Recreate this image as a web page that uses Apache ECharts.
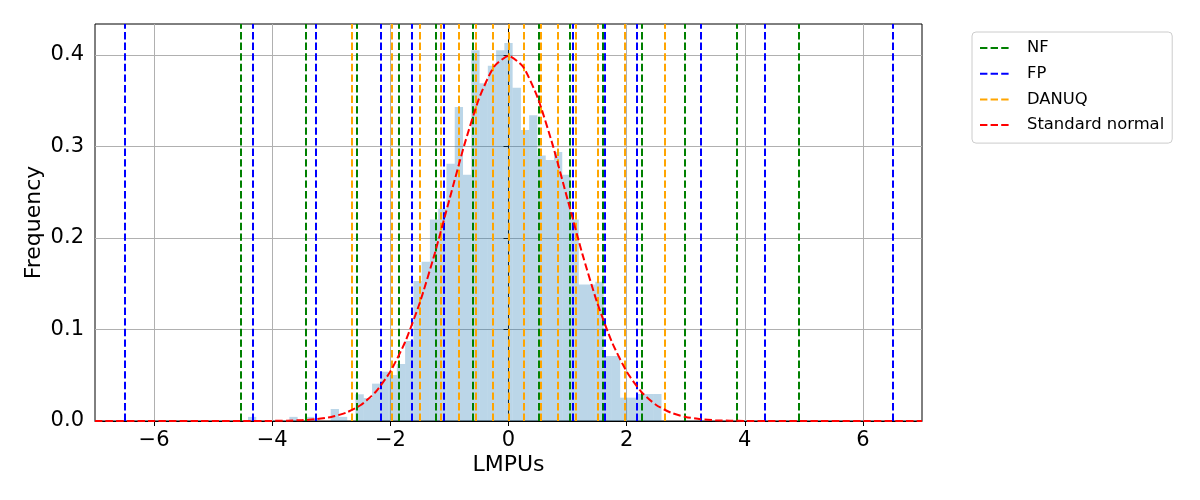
<!DOCTYPE html>
<html lang="en">
<head>
    <meta charset="UTF-8">
    <title>LMPUs histogram</title>
    <script src="https://cdn.jsdelivr.net/npm/echarts@6/dist/echarts.min.js"></script>
    <style>
        body { margin: 0; background: #fff; }
    </style>
</head>
<body>
    <div id="chart" style="width:1200px; height:500px"></div>
    <script>
        // histogram: 50 bins starting at binLeft, each binWidth wide
        const binLeft = -4.41;
        const binWidth = 0.14;
        const binHeights = [
            0.0045, 0, 0, 0, 0, 0.0045, 0, 0.0045, 0, 0,
            0.0131, 0.0045, 0, 0.0292, 0.0251, 0.0408, 0.0539, 0.0503, 0.0623, 0.0874,
            0.153, 0.174, 0.220, 0.232, 0.281, 0.343, 0.269, 0.405, 0.369, 0.388,
            0.405, 0.413, 0.364, 0.318, 0.334, 0.290, 0.285, 0.294, 0.269, 0.220,
            0.149, 0.149, 0.152, 0.071, 0.071, 0.0255, 0.0255, 0.0295, 0.0295, 0.0295
        ];

        // vertical lines
        const nfLines = [-4.53, -3.44, -2.57, -1.86, -1.23, -0.61, 0.51, 1.03, 1.59, 2.26, 2.99, 3.87, 4.91];
        const fpLines = [-6.5, -4.33, -3.26, -2.17, -1.63, -1.09, 1.09, 1.63, 2.17, 3.26, 4.33, 6.5];
        const danuqLines = [-2.645, -1.97, -1.51, -1.14, -0.84, -0.55, -0.26, 0, 0.26, 0.55, 0.84, 1.14, 1.51, 1.97, 2.645];

        // standard normal curve
        const normX = [-7, -6, -5, -4.5, -4, -3.75, -3.5, -3.25, -3, -2.75, -2.5, -2.25, -2, -1.75, -1.5, -1.25, -1, -0.75, -0.5, -0.25,
            0, 0.25, 0.5, 0.75, 1, 1.25, 1.5, 1.75, 2, 2.25, 2.5, 2.75, 3, 3.25, 3.5, 3.75, 4, 4.5, 5, 6, 7];
        const normY = [0, 0, 0, 0, 0.0001, 0.0004, 0.0009, 0.002, 0.0044, 0.0091, 0.0175, 0.0317, 0.054, 0.0863, 0.1295, 0.1826, 0.242, 0.3011, 0.3521, 0.3867,
            0.3989, 0.3867, 0.3521, 0.3011, 0.242, 0.1826, 0.1295, 0.0863, 0.054, 0.0317, 0.0175, 0.0091, 0.0044, 0.002, 0.0009, 0.0004, 0.0001, 0, 0, 0, 0];

        const xTicks = [-6, -4, -2, 0, 2, 4, 6];
        const yTicks = [0, 0.1, 0.2, 0.3, 0.4];

        const font = 'DejaVu Sans';
        const dash = [7.4, 3.2];

        const histData = binHeights.map((h, i) => [binLeft + i * binWidth, binLeft + (i + 1) * binWidth, h]);

        const vlineSeries = (name, color, values, z) => ({
            name: name,
            type: 'line',
            data: [],
            symbol: 'none',
            z: z,
            itemStyle: { color: color },
            lineStyle: { color: color, width: 2, type: dash },
            markLine: {
                silent: true,
                symbol: ['none', 'none'],
                label: { show: false },
                animation: false,
                lineStyle: { color: color, width: 2, type: dash },
                emphasis: { disabled: true },
                data: values.map(v => ({ xAxis: v }))
            }
        });

        const chart = echarts.init(document.getElementById('chart'));
        chart.setOption({
            animation: false,
            grid: {
                left: 95, right: 278, top: 24, bottom: 79,
                show: true, borderColor: '#000', borderWidth: 1
            },
            legend: {
                orient: 'vertical',
                left: 972, top: 32,
                padding: [6, 8, 8, 7],
                itemGap: 5.7,
                itemWidth: 30,
                itemHeight: 14,
                itemStyle: { opacity: 0 },
                backgroundColor: 'rgba(255,255,255,0.8)',
                borderColor: '#cccccc',
                borderWidth: 1,
                borderRadius: 4,
                textStyle: { fontFamily: font, fontSize: 16.4, color: '#000', lineHeight: 20, padding: [0, 0, 0, 12] },
                data: ['NF', 'FP', 'DANUQ', 'Standard normal']
            },
            xAxis: {
                type: 'value',
                min: -7, max: 7,
                splitNumber: 7,
                name: 'LMPUs',
                nameLocation: 'middle',
                nameGap: 33,
                nameMoveOverlap: false,
                nameTextStyle: { fontFamily: font, fontSize: 22, color: '#000' },
                axisLine: { show: true, onZero: false, lineStyle: { color: '#000', width: 1 } },
                axisTick: { show: true, length: 5, customValues: xTicks, lineStyle: { color: '#000', width: 1 } },
                axisLabel: {
                    margin: 9, fontFamily: font, fontSize: 21, color: '#000',
                    customValues: xTicks,
                    formatter: v => v < 0 ? '\u2212' + Math.abs(v) : String(v)
                },
                splitLine: { show: true, lineStyle: { color: '#b0b0b0', width: 1 } }
            },
            yAxis: {
                type: 'value',
                min: 0, max: 0.4337,
                interval: 0.1,
                name: 'Frequency',
                nameLocation: 'middle',
                nameGap: 50,
                nameMoveOverlap: false,
                nameTextStyle: { fontFamily: font, fontSize: 22, color: '#000' },
                axisLine: { show: true, lineStyle: { color: '#000', width: 1 } },
                axisTick: { show: true, length: 5, customValues: yTicks, lineStyle: { color: '#000', width: 1 } },
                axisLabel: {
                    margin: 11, fontFamily: font, fontSize: 21, color: '#000',
                    customValues: yTicks,
                    formatter: v => v.toFixed(1)
                },
                splitLine: { show: true, lineStyle: { color: '#b0b0b0', width: 1 } }
            },
            series: [
                {
                    type: 'custom',
                    z: 1,
                    silent: true,
                    encode: { x: [0, 1], y: 2 },
                    data: histData,
                    renderItem: (params, api) => {
                        const p0 = api.coord([api.value(0), api.value(2)]);
                        const p1 = api.coord([api.value(1), 0]);
                        return {
                            type: 'rect',
                            shape: { x: p0[0], y: p0[1], width: p1[0] - p0[0], height: p1[1] - p0[1] },
                            style: { fill: 'rgba(31,119,180,0.3)' }
                        };
                    }
                },
                vlineSeries('NF', 'green', nfLines, 3),
                vlineSeries('FP', 'blue', fpLines, 4),
                vlineSeries('DANUQ', 'orange', danuqLines, 5),
                {
                    name: 'Standard normal',
                    type: 'line',
                    z: 6,
                    symbol: 'none',
                    smooth: 0.2,
                    itemStyle: { color: 'red' },
                    lineStyle: { color: 'red', width: 2, type: dash },
                    data: normX.map((x, i) => [x, normY[i]])
                }
            ]
        });
    </script>
</body>
</html>
